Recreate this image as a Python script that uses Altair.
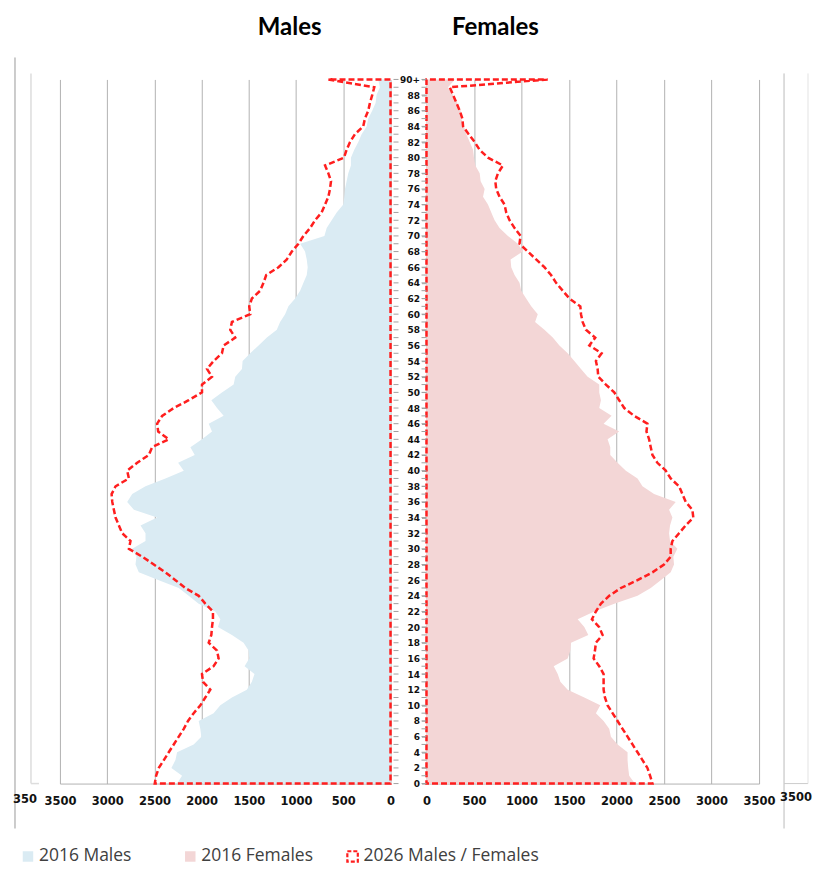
import altair as alt
import pandas as pd

ages = list(range(91))

male_2016 = [2260, 2207, 2320, 2277, 2260, 2084, 2003, 2014, 2031, 1873,
             1802, 1679, 1521, 1468, 1440, 1545, 1496, 1503, 1556, 1679,
             1827, 1802, 1855, 2031, 2137, 2242, 2453, 2665, 2700, 2690,
             2735, 2594, 2594, 2647, 2471, 2717, 2788, 2735, 2594, 2383,
             2189, 2249, 2073, 2119, 1996, 1890, 1925, 1767, 1837, 1897,
             1785, 1661, 1644, 1573, 1566, 1485, 1397, 1309, 1204, 1169,
             1116, 1081, 1010, 957, 922, 887, 877, 887, 905, 957,
             700, 676, 623, 570, 500, 489, 482, 465, 447, 419,
             419, 384, 341, 306, 253, 236, 194, 158, 148, 113, 130]

male_2026 = [2496, 2482, 2453, 2400, 2348, 2295, 2242, 2189, 2144, 2084,
             2013, 1961, 1908, 1985, 1996, 1873, 1820, 1837, 1925, 1897,
             1890, 1880, 1880, 1961, 2031, 2172, 2277, 2383, 2506, 2629,
             2770, 2753, 2841, 2876, 2911, 2929, 2946, 2953, 2911, 2770,
             2788, 2682, 2559, 2524, 2348, 2460, 2471, 2418, 2295, 2137,
             1996, 1996, 1890, 1943, 1873, 1785, 1767, 1644, 1697, 1679,
             1485, 1496, 1468, 1380, 1345, 1316, 1186, 1098, 1045, 975,
             922, 852, 799, 729, 693, 658, 641, 630, 658, 693,
             493, 465, 429, 377, 289, 271, 236, 218, 194, 172, 658]

female_2016 = [2193, 2133, 2123, 2116, 2116, 2011, 1941, 1923, 1864, 1783,
               1829, 1661, 1486, 1409, 1381, 1339, 1486, 1514, 1521, 1703,
               1661, 1591, 1766, 1976, 2221, 2360, 2465, 2570, 2605, 2598,
               2640, 2563, 2553, 2563, 2588, 2553, 2623, 2395, 2273, 2221,
               2098, 2011, 1934, 1934, 1906, 2028, 1864, 1948, 1818, 1836,
               1818, 1818, 1696, 1626, 1556, 1486, 1399, 1329, 1241, 1143,
               1171, 1102, 1049, 997, 979, 927, 892, 885, 1014, 962,
               857, 769, 717, 682, 647, 595, 612, 570, 560, 514,
               500, 490, 455, 420, 395, 367, 360, 325, 280, 227, 300]

female_2026 = [2378, 2353, 2325, 2273, 2221, 2168, 2116, 2063, 2011, 1958,
               1906, 1878, 1864, 1864, 1864, 1818, 1759, 1773, 1783, 1853,
               1818, 1741, 1783, 1836, 1923, 2046, 2221, 2378, 2500, 2570,
               2570, 2588, 2658, 2728, 2808, 2798, 2728, 2693, 2658, 2570,
               2518, 2430, 2378, 2360, 2343, 2315, 2325, 2186, 2081, 2028,
               1976, 1888, 1808, 1801, 1783, 1843, 1714, 1776, 1678, 1643,
               1626, 1619, 1504, 1434, 1364, 1311, 1241, 1154, 1067, 979,
               990, 927, 874, 839, 822, 769, 734, 724, 752, 804,
               647, 560, 507, 444, 385, 378, 350, 315, 280, 245, 1276]

x_ticks = [0, 500, 1000, 1500, 2000, 2500, 3000, 3500]
age_ticks = list(range(0, 91, 2))
legend_labels = ["2016 Males", "2016 Females", "2026 Males / Females"]
panel_titles = ["Males", "Females"]

RED = "#FF1E1E"
BLUE = "#DAEBF3"
PINK = "#F3D6D6"
GRID = "#B2B2B2"
LABEL = "#111111"

W_M, W_F, H = 331, 333, 705

df = pd.DataFrame({"age": ages, "m16": male_2016, "m26": male_2026,
                   "f16": female_2016, "f26": female_2026})

y_scale = alt.Scale(domain=[0, 90], nice=False, zero=True)

X_AXIS = alt.Axis(values=x_ticks, format="d", labelOverlap=False,
                  labelFlush=False, grid=True,
                  gridColor=GRID, gridWidth=1, ticks=False, domainColor=GRID,
                  labelFont="DejaVu Sans", labelFontWeight="bold",
                  labelFontSize=11.5, labelColor=LABEL, labelPadding=12,
                  title=None)

Y_AXIS_F = alt.Axis(values=age_ticks,
                    labelExpr="datum.value == 90 ? '90+' : datum.label",
                    orient="left", domain=False, ticks=True, tickSize=5,
                    tickColor="#A0A0A0", labelFontSize=9,
                    labelFontWeight="bold", labelFont="DejaVu Sans",
                    labelPadding=2, labelColor=LABEL, title=None, grid=False,
                    labelOverlap=False, labelFlush=False)


def one(v):
    return pd.DataFrame({"t": [v]})


# ---------------- Males ----------------
xm = alt.Scale(domain=[0, 3500], reverse=True, nice=False, zero=True)
base_m = alt.Chart(df)
area_m = base_m.mark_area(orient="horizontal", color=BLUE).encode(
    x=alt.X("m16:Q", scale=xm, axis=X_AXIS),
    y=alt.Y("age:Q", scale=y_scale, axis=None),
)
line_m = base_m.mark_area(orient="horizontal", fillOpacity=0, stroke=RED,
                          strokeWidth=2.5, strokeDash=[6, 3]).encode(
    x=alt.X("m26:Q", scale=xm, axis=X_AXIS),
    y=alt.Y("age:Q", scale=y_scale, axis=None),
)
ticks_m = base_m.mark_rule(color="#A0A0A0", strokeWidth=1).encode(
    y=alt.Y("age:Q", scale=y_scale, axis=None),
    x=alt.value(W_M + 3), x2=alt.value(W_M + 8),
)
title_m = alt.Chart(one(panel_titles[0])).mark_text(
    font="Lato", fontSize=24, fontWeight="bold", align="center",
    baseline="middle", color="#000"
).encode(text="t:N", x=alt.value(230), y=alt.value(-52))
art_m1 = alt.Chart(one("a")).mark_rule(color="#9A9A9A", strokeWidth=1).encode(
    x=alt.value(-45), y=alt.value(-22), y2=alt.value(750))
art_m2 = alt.Chart(one("a")).mark_rule(color="#DDDDDD", strokeWidth=1.5).encode(
    x=alt.value(-29), y=alt.value(-6), y2=alt.value(H))
art_m3 = alt.Chart(one("a")).mark_rule(color="#DDDDDD", strokeWidth=1.5).encode(
    x=alt.value(-29), x2=alt.value(-21), y=alt.value(H))
art_m4 = alt.Chart(one("350")).mark_text(
    font="DejaVu Sans", fontSize=11.5, fontWeight="bold", align="left",
    baseline="middle", color=LABEL).encode(text="t:N", x=alt.value(-47), y=alt.value(721))

male = alt.layer(area_m, line_m, ticks_m, title_m, art_m1, art_m2, art_m3, art_m4
                 ).properties(width=W_M, height=H)

# ---------------- Females ----------------
xf = alt.Scale(domain=[0, 3500], nice=False, zero=True)
base_f = alt.Chart(df)
area_f = base_f.mark_area(orient="horizontal", color=PINK).encode(
    x=alt.X("f16:Q", scale=xf, axis=X_AXIS),
    y=alt.Y("age:Q", scale=y_scale, axis=Y_AXIS_F),
)
line_f = base_f.mark_area(orient="horizontal", fillOpacity=0, stroke=RED,
                          strokeWidth=2.5, strokeDash=[6, 3]).encode(
    x=alt.X("f26:Q", scale=xf, axis=X_AXIS),
    y=alt.Y("age:Q", scale=y_scale, axis=Y_AXIS_F),
)
ticks_f = base_f.mark_rule(color="#A0A0A0", strokeWidth=1).encode(
    y=alt.Y("age:Q", scale=y_scale, axis=Y_AXIS_F),
    x=alt.value(-5), x2=alt.value(0),
)
title_f = alt.Chart(one(panel_titles[1])).mark_text(
    font="Lato", fontSize=24, fontWeight="bold", align="center",
    baseline="middle", color="#000"
).encode(text="t:N", x=alt.value(69), y=alt.value(-52))
art_f1 = alt.Chart(one("a")).mark_rule(color="#BBBBBB", strokeWidth=1).encode(
    x=alt.value(358), y=alt.value(-6), y2=alt.value(750))
art_f2 = alt.Chart(one("a")).mark_rule(color="#CCCCCC", strokeWidth=1).encode(
    x=alt.value(358), x2=alt.value(382), y=alt.value(H))
art_f3 = alt.Chart(one("a")).mark_rule(color="#E3E3E3", strokeWidth=1).encode(
    x=alt.value(382), y=alt.value(-6), y2=alt.value(H))
art_f4 = alt.Chart(one("3500")).mark_text(
    font="DejaVu Sans", fontSize=11.5, fontWeight="bold", align="right",
    baseline="middle", color=LABEL).encode(text="t:N", x=alt.value(386), y=alt.value(719))

female = alt.layer(area_f, line_f, ticks_f, title_f, art_f1, art_f2, art_f3, art_f4
                   ).properties(width=W_F, height=H)

pyramid = alt.hconcat(male, female, spacing=36, bounds="flush")

# ---------------- Legend ----------------
leg_df = pd.DataFrame({"label": legend_labels})
lx = alt.Scale(type="point", domain=legend_labels, range=[-32, 293], padding=0)
is_2026 = "datum.label == '2026 Males / Females'"
leg_sq = alt.Chart(leg_df).mark_square(size=110, strokeWidth=2.2, opacity=1).encode(
    x=alt.X("label:N", scale=lx, axis=None),
    y=alt.value(10),
    fill=alt.Fill("label:N", scale=alt.Scale(domain=legend_labels,
                                             range=[BLUE, PINK, "#FFFFFF"]), legend=None),
    stroke=alt.condition(is_2026, alt.value(RED), alt.value("transparent")),
    strokeDash=alt.condition(is_2026, alt.value([4, 2]), alt.value([1, 0])),
)
leg_txt = alt.Chart(leg_df).mark_text(
    align="left", baseline="middle", dx=11, fontSize=17.5, font="Open Sans",
    color="#404040").encode(
    x=alt.X("label:N", scale=lx, axis=None), y=alt.value(10), text="label:N")
legend = alt.layer(leg_sq, leg_txt).properties(width=480, height=18)

chart = alt.vconcat(pyramid, legend, spacing=16).properties(
    padding={"left": 4, "top": 6, "right": 0, "bottom": 0}
).configure_view(stroke="transparent")

chart.save("out.html", embed_options={"renderer": "svg", "actions": False})
